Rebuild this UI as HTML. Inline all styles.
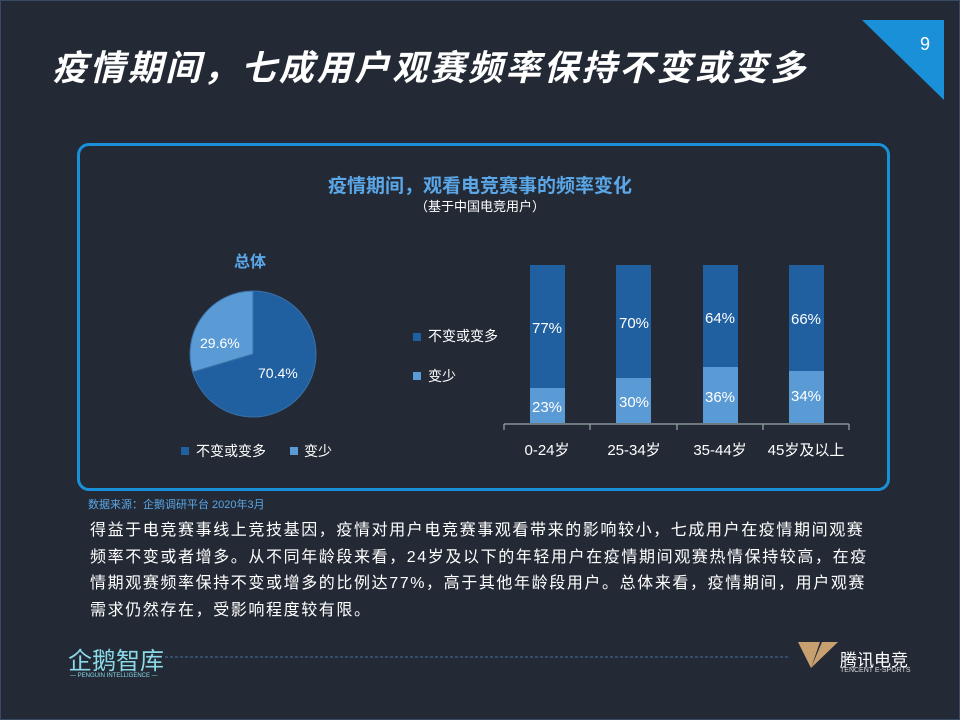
<!DOCTYPE html>
<html><head><meta charset="utf-8"><style>
body{margin:0;width:960px;height:720px;background:#232a35;position:relative;overflow:hidden;font-family:"Liberation Sans","Noto Sans CJK SC",sans-serif;color:#fff}
.a{position:absolute;white-space:nowrap}
</style></head><body>
<div class="a" style="left:0;top:0;width:958px;height:718px;border:1px solid #3a4a66"></div>
<div class="a" style="left:52px;top:40px;font-size:35px;font-weight:bold;font-style:italic;letter-spacing:2.8px">疫情期间，七成用户观赛频率保持不变或变多</div>
<svg class="a" style="left:862px;top:20px" width="82" height="82"><polygon points="0,0 82,0 82,80" fill="#1a90d8"/><text x="58" y="30" font-size="18" fill="#fff" font-family="Liberation Sans">9</text></svg>
<div class="a" style="left:77px;top:143px;width:807px;height:342px;border:3px solid #1a90d8;border-radius:12px"></div>
<div class="a" style="left:0;width:960px;text-align:center;top:171px;font-size:19px;font-weight:bold;color:#5aa6e6">疫情期间，观看电竞赛事的频率变化</div>
<div class="a" style="left:0;width:960px;text-align:center;top:196px;font-size:13px;color:#fff">（基于中国电竞用户）</div>
<div class="a" style="left:234px;top:248px;font-size:16px;font-weight:bold;color:#5aa6e6">总体</div>
<svg class="a" style="left:0;top:0" width="960" height="720">
<path d="M253,354 L253,291 A63,63 0 1 1 192.6,372 Z" fill="#2060a0" stroke="#3a70a8"/>
<path d="M253,354 L192.6,372 A63,63 0 0 1 253,291 Z" fill="#5b9bd5" stroke="#3a70a8"/>
<text x="200" y="348" font-size="14" fill="#fff">29.6%</text>
<text x="258" y="378" font-size="14" fill="#fff">70.4%</text>
<rect x="181" y="447" width="8" height="8" fill="#2060a0"/><text x="196" y="456" font-size="14" fill="#fff">不变或变多</text>
<rect x="290" y="447" width="8" height="8" fill="#5b9bd5"/><text x="304" y="456" font-size="14" fill="#fff">变少</text>
<rect x="413" y="333" width="8" height="8" fill="#2060a0"/><text x="428" y="341" font-size="14" fill="#fff">不变或变多</text>
<rect x="413" y="372" width="8" height="8" fill="#5b9bd5"/><text x="428" y="381" font-size="14" fill="#fff">变少</text>
<g font-size="15" fill="#fff" text-anchor="middle">
<rect x="530" y="265" width="35" height="158" fill="#2060a0"/><rect x="530" y="388" width="35" height="35" fill="#5b9bd5"/><text x="547" y="333">77%</text><text x="547" y="412">23%</text>
<rect x="616" y="265" width="35" height="158" fill="#2060a0"/><rect x="616" y="378" width="35" height="45" fill="#5b9bd5"/><text x="634" y="328">70%</text><text x="634" y="407">30%</text>
<rect x="703" y="265" width="35" height="158" fill="#2060a0"/><rect x="703" y="367" width="35" height="56" fill="#5b9bd5"/><text x="720" y="323">64%</text><text x="720" y="402">36%</text>
<rect x="789" y="265" width="35" height="158" fill="#2060a0"/><rect x="789" y="371" width="35" height="52" fill="#5b9bd5"/><text x="806" y="324">66%</text><text x="806" y="401">34%</text>
<text x="547" y="455">0-24岁</text><text x="634" y="455">25-34岁</text><text x="720" y="455">35-44岁</text><text x="806" y="455">45岁及以上</text>
</g>
<path d="M504,424 H849 M504,424v6 M590,424v6 M677,424v6 M763,424v6 M849,424v6" stroke="#9aa" stroke-width="1.2"/>
<line x1="165" y1="657" x2="788" y2="657" stroke="#4a6aa8" stroke-dasharray="3,2"/>
<path d="M798,642 L820,642 L811,668 Z M822,642 L838,642 L811,668 Z" fill="#c8a070"/>
</svg>
<div class="a" style="left:88px;top:496px;font-size:11px;color:#5aa6e6">数据来源：企鹅调研平台 2020年3月</div>
<div class="a" style="left:90px;top:518px;width:790px;white-space:normal;font-size:16px;letter-spacing:1.6px;line-height:26.5px">得益于电竞赛事线上竞技基因，疫情对用户电竞赛事观看带来的影响较小，七成用户在疫情期间观赛频率不变或者增多。从不同年龄段来看，24岁及以下的年轻用户在疫情期间观赛热情保持较高，在疫情期观赛频率保持不变或增多的比例达77%，高于其他年龄段用户。总体来看，疫情期间，用户观赛需求仍然存在，受影响程度较有限。</div>
<div class="a" style="left:68px;top:641px;font-size:24px;color:#8ad8e8">企鹅智库</div>
<div class="a" style="left:70px;top:673px;font-size:6px;color:#8ad8e8">— PENGUIN INTELLIGENCE —</div>
<div class="a" style="left:840px;top:646px;font-size:17px;color:#fff">腾讯电竞</div>
<div class="a" style="left:840px;top:667px;font-size:7px;color:#ddd">TENCENT E-SPORTS</div>
</body></html>
